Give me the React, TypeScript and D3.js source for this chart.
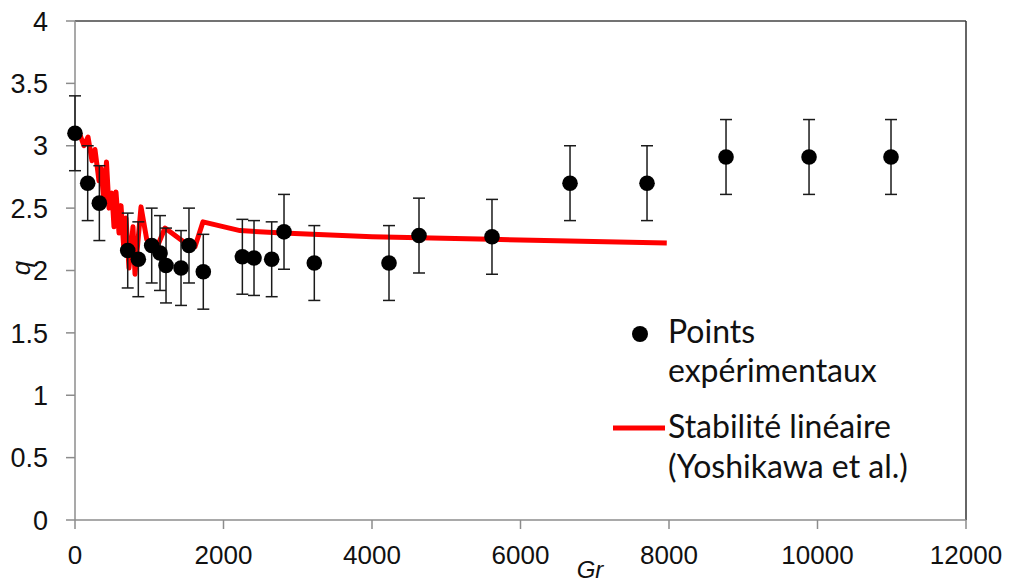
import React from "react";
import * as d3 from "d3";

const grValues = [0, 171, 328, 710, 853, 1033, 1145, 1226, 1428, 1535, 1728, 2254, 2411, 2649, 2815, 3223, 4229, 4633, 5616, 6667, 7704, 8768, 9886, 10990];
const qValues = [3.10, 2.70, 2.54, 2.16, 2.09, 2.20, 2.14, 2.04, 2.02, 2.20, 1.99, 2.11, 2.10, 2.09, 2.31, 2.06, 2.06, 2.28, 2.27, 2.70, 2.70, 2.91, 2.91, 2.91];
const qErrors = [0.3, 0.3, 0.3, 0.3, 0.3, 0.3, 0.3, 0.3, 0.3, 0.3, 0.3, 0.3, 0.3, 0.3, 0.3, 0.3, 0.3, 0.3, 0.3, 0.3, 0.3, 0.3, 0.3, 0.3];

const stabGr = [60, 121, 175, 229, 269, 323, 350, 390, 424, 458, 498, 525, 552, 593, 620, 660, 687, 727, 781, 808, 889, 966, 1037, 1100, 1212, 1508, 1616, 1724, 2222, 2800, 4000, 5600, 7970];
const stabQ = [3.10, 3.00, 3.07, 2.88, 2.97, 2.72, 2.82, 2.55, 2.87, 2.50, 2.62, 2.35, 2.63, 2.30, 2.52, 2.15, 2.42, 2.02, 2.35, 1.97, 2.51, 2.25, 2.20, 2.18, 2.34, 2.21, 2.19, 2.39, 2.32, 2.30, 2.27, 2.25, 2.22];

const xTicks = [0, 2000, 4000, 6000, 8000, 10000, 12000];
const yTicks = [0, 0.5, 1, 1.5, 2, 2.5, 3, 3.5, 4];
const yTickLabels = ["0", "0.5", "1", "1.5", "2", "2.5", "3", "3.5", "4"];

const legendLabels = [["Points", "expérimentaux"], ["Stabilité linéaire", "(Yoshikawa et al.)"]];

export default function App() {
  const W = 1010, H = 585;
  const x = d3.scaleLinear().domain([0, 12000]).range([75, 966]);
  const y = d3.scaleLinear().domain([0, 4]).range([520, 21]);
  const line = d3.line<number>().x((_, i) => x(stabGr[i])).y((d) => y(d));
  const axisCol = "#8c8c8c";
  const tickFont = "'Liberation Sans', Arial, sans-serif";
  const legFont = "Lato, 'Open Sans', sans-serif";
  return (
    <div style={{ position: "absolute", left: 0, top: 0 }}>
      <svg width={W} height={H} style={{ display: "block", background: "#fff" }}>
        {/* box top / right */}
        <line x1={x(0)} x2={x(12000)} y1={y(4)} y2={y(4)} stroke="#444" strokeWidth={1.5} />
        <line x1={x(12000)} x2={x(12000)} y1={y(4)} y2={y(0)} stroke="#333" strokeWidth={1.5} />
        {/* axes */}
        <line x1={x(0)} x2={x(0)} y1={y(4)} y2={y(0)} stroke={axisCol} strokeWidth={1.5} />
        <line x1={x(0)} x2={x(12000)} y1={y(0)} y2={y(0)} stroke={axisCol} strokeWidth={1.5} />
        {yTicks.map((t, i) => (
          <g key={"y" + i}>
            <line x1={x(0) - 9} x2={x(0)} y1={y(t)} y2={y(t)} stroke={axisCol} strokeWidth={1.5} />
            <text x={48} y={y(t)} dy="0.36em" textAnchor="end" fontFamily={tickFont} fontSize={27} fill="#111">
              {yTickLabels[i]}
            </text>
          </g>
        ))}
        {xTicks.map((t, i) => (
          <g key={"x" + i}>
            <line x1={x(t)} x2={x(t)} y1={y(0)} y2={y(0) + 9} stroke={axisCol} strokeWidth={1.5} />
            <text x={x(t)} y={564} textAnchor="middle" fontFamily={tickFont} fontSize={26} fill="#111">
              {String(t)}
            </text>
          </g>
        ))}
        <text x={590} y={578} textAnchor="middle" fontFamily={tickFont} fontStyle="italic" fontSize={24} fill="#111">Gr</text>
        <text transform="translate(30,268) rotate(-90)" textAnchor="middle" fontFamily={tickFont} fontStyle="italic" fontSize={26} fill="#111">q</text>

        {/* stability line */}
        <path d={line(stabQ) || ""} fill="none" stroke="#ff0000" strokeWidth={5} strokeLinejoin="round" strokeLinecap="butt" />

        {/* error bars */}
        {grValues.map((g, i) => {
          const cx = x(g);
          const top = y(qValues[i] + qErrors[i]);
          const bot = y(qValues[i] - qErrors[i]);
          return (
            <g key={"e" + i} stroke="#1a1a1a" strokeWidth={1.5}>
              <line x1={cx} x2={cx} y1={top} y2={bot} />
              <line x1={cx - 6} x2={cx + 6} y1={top} y2={top} />
              <line x1={cx - 6} x2={cx + 6} y1={bot} y2={bot} />
            </g>
          );
        })}
        {grValues.map((g, i) => (
          <circle key={"p" + i} cx={x(g)} cy={y(qValues[i])} r={7.8} fill="#000" />
        ))}

        {/* legend */}
        <circle cx={640} cy={334} r={8} fill="#000" />
        <text x={668} y={343} fontFamily={legFont} fontSize={32} fill="#111">{legendLabels[0][0]}</text>
        <text x={668} y={382} fontFamily={legFont} fontSize={32} fill="#111">{legendLabels[0][1]}</text>
        <line x1={613} x2={665} y1={428} y2={428} stroke="#ff0000" strokeWidth={5} />
        <text x={668} y={438} fontFamily={legFont} fontSize={32} fill="#111">{legendLabels[1][0]}</text>
        <text x={668} y={478} fontFamily={legFont} fontSize={32} fill="#111">{legendLabels[1][1]}</text>
      </svg>
    </div>
  );
}
